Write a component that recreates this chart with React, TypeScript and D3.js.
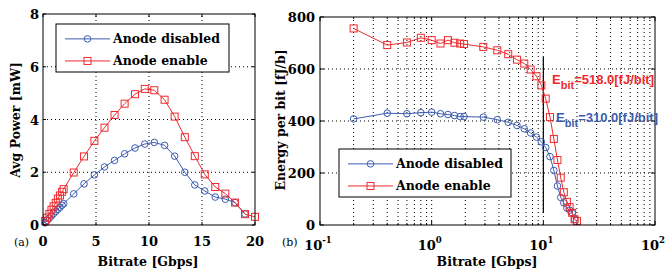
import React from "react";
import * as d3 from "d3";

const bitrate = [0.2, 0.4, 0.6, 0.8, 1.0, 1.2, 1.4, 1.6, 1.8, 1.95, 2.9, 3.87, 4.85, 5.8, 6.75, 7.7, 8.68, 9.6, 10.5, 11.47, 12.42, 13.38, 14.32, 15.26, 16.25, 17.2, 18.12, 19.06, 20.0];
const powerDisabled = [0.082, 0.172, 0.257, 0.346, 0.434, 0.514, 0.595, 0.674, 0.75, 0.81, 1.18, 1.56, 1.9, 2.2, 2.45, 2.7, 2.92, 3.07, 3.13, 3.02, 2.61, 2.0, 1.52, 1.29, 1.06, 0.98, 0.85, 0.42];
const powerEnable = [0.15, 0.28, 0.42, 0.58, 0.71, 0.84, 1.0, 1.12, 1.26, 1.36, 1.99, 2.6, 3.19, 3.69, 4.17, 4.6, 4.96, 5.16, 5.11, 4.75, 4.11, 3.33, 2.61, 1.92, 1.44, 1.19, 0.85, 0.41, 0.31];
const energyDisabled = [408, 430, 428, 432, 434, 428, 425, 421, 417, 417, 415, 405, 395, 383, 370, 354, 338, 320, 298, 263, 210, 150, 106, 85, 65, 57, 47, 22];
const energyEnable = [756, 692, 702, 720, 711, 698, 711, 701, 698, 696, 685, 672, 657, 636, 621, 598, 572, 537, 486, 415, 331, 250, 182, 126, 89, 69, 47, 22, 15];
const seriesNames = ["Anode disabled", "Anode enable"];
const xTicksA = [0, 5, 10, 15, 20];
const yTicksA = [0, 2, 4, 6, 8];
const xTicksB = [0.1, 1, 10, 100];
const yTicksB = [0, 200, 400, 600, 800];
const annotRate = 10;
const annotEnable = "518.0";
const annotDisabled = "310.0";

const BLUE = "#3d5cb0";
const RED = "#ee2a2e";
const SERIF = "'DejaVu Serif', 'Liberation Serif', serif";
const SANS = "'Liberation Sans', Arial, sans-serif";

function Circle({ x, y }: { x: number; y: number }) {
  return <circle cx={x} cy={y} r={3.3} fill="none" stroke={BLUE} strokeWidth={1} />;
}
function Square({ x, y }: { x: number; y: number }) {
  return <rect x={x - 3.5} y={y - 3.5} width={7} height={7} fill="none" stroke={RED} strokeWidth={1} />;
}

function Legend({ x, y, w, h }: { x: number; y: number; w: number; h: number }) {
  const r1 = y + h * 0.31;
  const r2 = y + h * 0.77;
  return (
    <g>
      <rect x={x} y={y} width={w} height={h} fill="white" stroke="black" strokeWidth={1} />
      <line x1={x + 9} x2={x + 54} y1={r1} y2={r1} stroke={BLUE} />
      <Circle x={x + 31.5} y={r1} />
      <line x1={x + 9} x2={x + 54} y1={r2} y2={r2} stroke={RED} />
      <Square x={x + 31.5} y={r2} />
      <text x={x + 57} y={r1 + 4.5} fontFamily={SERIF} fontWeight="bold" fontSize={12.5}>{seriesNames[0]}</text>
      <text x={x + 57} y={r2 + 4.5} fontFamily={SERIF} fontWeight="bold" fontSize={12.5}>{seriesNames[1]}</text>
    </g>
  );
}

export default function App() {
  // Plot (a)
  const ax = d3.scaleLinear().domain([0, 20]).range([43, 255]);
  const ay = d3.scaleLinear().domain([0, 8]).range([225, 14]);
  // Plot (b)
  const bx = d3.scaleLog().domain([0.1, 100]).range([320, 655]);
  const by = d3.scaleLinear().domain([0, 800]).range([225, 17]);

  const lineA = (vals: number[]) =>
    d3.line<number>().x((_, i) => ax(bitrate[i])).y((v) => ay(v))(vals) || "";
  const lineB = (vals: number[]) =>
    d3.line<number>().x((_, i) => bx(bitrate[i])).y((v) => by(v))(vals) || "";

  const minorB: number[] = [];
  [0.1, 1, 10].forEach((d) => {
    for (let k = 2; k <= 9; k++) minorB.push(d * k);
  });

  const [ax0, ax1] = ax.range();
  const [ay0, ay1] = ay.range();
  const [bx0, bx1] = bx.range();
  const [by0, by1] = by.range();

  return (
    <svg width={665} height={270} style={{ position: "absolute", left: 0, top: 0, background: "white" }}>
      <rect x={0} y={0} width={665} height={270} fill="white" />
      {/* ---------- Plot (a) ---------- */}
      <g>
        {xTicksA.slice(1, -1).map((t) => (
          <line key={"gx" + t} x1={ax(t)} x2={ax(t)} y1={ay0} y2={ay1} stroke="black" strokeWidth={1} strokeDasharray="1,3" />
        ))}
        {yTicksA.slice(1, -1).map((t) => (
          <line key={"gy" + t} x1={ax0} x2={ax1} y1={ay(t)} y2={ay(t)} stroke="black" strokeWidth={1} strokeDasharray="1,3" />
        ))}
        <path d={lineA(powerDisabled)} fill="none" stroke={BLUE} strokeWidth={1} />
        {powerDisabled.map((v, i) => <Circle key={"ca" + i} x={ax(bitrate[i])} y={ay(v)} />)}
        <path d={lineA(powerEnable)} fill="none" stroke={RED} strokeWidth={1} />
        {powerEnable.map((v, i) => <Square key={"sa" + i} x={ax(bitrate[i])} y={ay(v)} />)}
        <rect x={ax0} y={ay1} width={ax1 - ax0} height={ay0 - ay1} fill="none" stroke="black" strokeWidth={1} />
        {xTicksA.map((t) => (
          <g key={"tx" + t}>
            <line x1={ax(t)} x2={ax(t)} y1={ay0} y2={ay0 - 3} stroke="black" />
            <line x1={ax(t)} x2={ax(t)} y1={ay1} y2={ay1 + 3} stroke="black" />
            <text x={ax(t)} y={246} textAnchor="middle" fontFamily={SERIF} fontWeight="bold" fontSize={13}>{t}</text>
          </g>
        ))}
        {yTicksA.map((t) => (
          <g key={"ty" + t}>
            <line x1={ax0} x2={ax0 + 3} y1={ay(t)} y2={ay(t)} stroke="black" />
            <line x1={ax1} x2={ax1 - 3} y1={ay(t)} y2={ay(t)} stroke="black" />
            <text x={39} y={ay(t) + 5} textAnchor="end" fontFamily={SERIF} fontWeight="bold" fontSize={13}>{t}</text>
          </g>
        ))}
        <text x={148} y={266} textAnchor="middle" fontFamily={SERIF} fontWeight="bold" fontSize={12.5}>Bitrate [Gbps]</text>
        <text transform={`translate(20,120) rotate(-90)`} textAnchor="middle" fontFamily={SERIF} fontWeight="bold" fontSize={12.5}>Avg Power [mW]</text>
        <text x={14} y={246} fontFamily={SERIF} fontSize={11}>(a)</text>
        <Legend x={56} y={24} w={173} h={48} />
      </g>

      {/* ---------- Plot (b) ---------- */}
      <g>
        {minorB.concat([1, 10]).map((t, i) => (
          <line key={"gbx" + i} x1={bx(t)} x2={bx(t)} y1={by0} y2={by1} stroke="black" strokeWidth={1} strokeDasharray="1,3" />
        ))}
        {yTicksB.slice(1, -1).map((t) => (
          <line key={"gby" + t} x1={bx0} x2={bx1} y1={by(t)} y2={by(t)} stroke="black" strokeWidth={1} strokeDasharray="1,3" />
        ))}
        <line x1={bx(annotRate)} x2={bx(annotRate)} y1={57} y2={213} stroke="black" strokeWidth={1.2} />
        <path d={lineB(energyDisabled)} fill="none" stroke={BLUE} strokeWidth={1} />
        {energyDisabled.map((v, i) => <Circle key={"cb" + i} x={bx(bitrate[i])} y={by(v)} />)}
        <path d={lineB(energyEnable)} fill="none" stroke={RED} strokeWidth={1} />
        {energyEnable.map((v, i) => <Square key={"sb" + i} x={bx(bitrate[i])} y={by(v)} />)}
        <rect x={bx0} y={by1} width={bx1 - bx0} height={by0 - by1} fill="none" stroke="black" strokeWidth={1} />
        {xTicksB.map((t, i) => (
          <g key={"tbx" + t}>
            <line x1={bx(t)} x2={bx(t)} y1={by0} y2={by0 - 4} stroke="black" />
            <line x1={bx(t)} x2={bx(t)} y1={by1} y2={by1 + 4} stroke="black" />
            <text x={bx(t) - 2} y={250} textAnchor="middle" fontFamily={SERIF} fontWeight="bold" fontSize={13}>
              10<tspan dy={-7} fontSize={8.5}>{String(i - 1)}</tspan>
            </text>
          </g>
        ))}
        {minorB.map((t, i) => (
          <g key={"mbx" + i}>
            <line x1={bx(t)} x2={bx(t)} y1={by0} y2={by0 - 2} stroke="black" />
            <line x1={bx(t)} x2={bx(t)} y1={by1} y2={by1 + 2} stroke="black" />
          </g>
        ))}
        {yTicksB.map((t) => (
          <g key={"tby" + t}>
            <line x1={bx0} x2={bx0 + 4} y1={by(t)} y2={by(t)} stroke="black" />
            <line x1={bx1} x2={bx1 - 4} y1={by(t)} y2={by(t)} stroke="black" />
            <text x={315} y={by(t) + 5} textAnchor="end" fontFamily={SERIF} fontWeight="bold" fontSize={13}>{t}</text>
          </g>
        ))}
        <text x={487} y={266} textAnchor="middle" fontFamily={SERIF} fontWeight="bold" fontSize={12.5}>Bitrate [Gbps]</text>
        <text transform={`translate(285,120) rotate(-90)`} textAnchor="middle" fontFamily={SERIF} fontWeight="bold" fontSize={12.5}>Energy per bit [fJ/b]</text>
        <text x={282} y={246} fontFamily={SERIF} fontSize={11}>(b)</text>
        <text x={552} y={84} fill={RED} fontFamily={SANS} fontWeight="bold" fontSize={13}>
          E<tspan dy={5} fontSize={11}>bit</tspan><tspan dy={-5}>{"=" + annotEnable + "[fJ/bit]"}</tspan>
        </text>
        <text x={556} y={122} fill={BLUE} fontFamily={SANS} fontWeight="bold" fontSize={13}>
          E<tspan dy={5} fontSize={11}>bit</tspan><tspan dy={-5}>{"=" + annotDisabled + "[fJ/bit]"}</tspan>
        </text>
        <Legend x={339} y={149} w={172} h={48} />
      </g>
    </svg>
  );
}
